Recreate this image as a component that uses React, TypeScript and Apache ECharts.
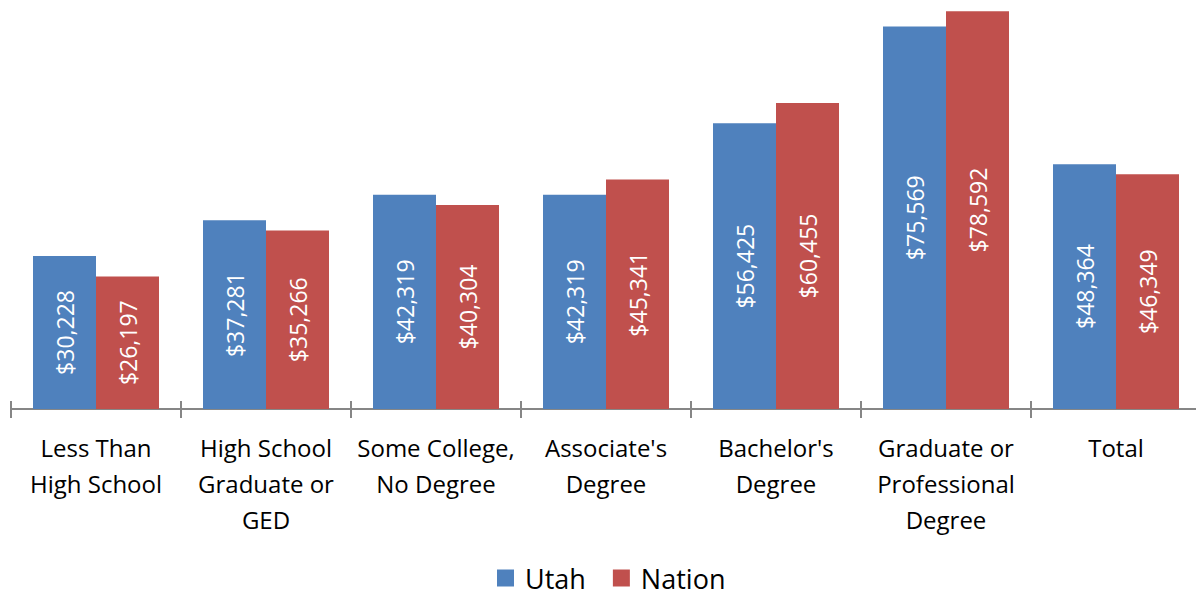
import React, { useEffect, useRef } from "react";
import * as echarts from "echarts";

const categories = [
  "Less Than\nHigh School",
  "High School\nGraduate or\nGED",
  "Some College,\nNo Degree",
  "Associate's\nDegree",
  "Bachelor's\nDegree",
  "Graduate or\nProfessional\nDegree",
  "Total",
];
const utahValues = [30228, 37281, 42319, 42319, 56425, 75569, 48364];
const nationValues = [26197, 35266, 40304, 45341, 60455, 78592, 46349];

const FONT = "'Open Sans', 'Noto Sans', sans-serif";

const fmt = (v: number) => "$" + v.toLocaleString("en-US");

export default function App() {
  const ref = useRef<HTMLDivElement>(null);
  useEffect(() => {
    if (!ref.current) return;
    const chart = echarts.init(ref.current, null, { renderer: "svg" });
    const label = {
      show: true,
      position: "inside",
      rotate: 90,
      color: "#ffffff",
      fontFamily: FONT,
      fontSize: 23,
      formatter: (p: any) => fmt(p.value),
    };
    chart.setOption({
      animation: false,
      textStyle: { fontFamily: FONT },
      grid: { left: 11, width: 1190, top: 4, bottom: 186, containLabel: false },
      legend: {
        top: 564,
        left: 497,
        padding: 0,
        itemWidth: 17,
        itemHeight: 17,
        itemGap: 27,
        icon: "rect",
        textStyle: {
          fontSize: 27,
          lineHeight: 28,
          color: "#000",
          fontFamily: FONT,
          padding: [0, 0, 0, 6],
        },
        data: ["Utah", "Nation"],
      },
      xAxis: [
        {
          type: "category",
          data: categories,
          axisLine: { show: true, lineStyle: { color: "#868686", width: 2 } },
          axisTick: { show: true, length: 9, lineStyle: { color: "#868686", width: 2 } },
          axisLabel: {
            color: "#000",
            fontSize: 24,
            lineHeight: 36,
            margin: 20,
            fontFamily: FONT,
            interval: 0,
          },
        },
        {
          type: "category",
          data: categories,
          position: "bottom",
          axisLine: { show: false },
          axisTick: { show: true, inside: true, length: 8, lineStyle: { color: "#868686", width: 2 } },
          axisLabel: { show: false },
        },
      ],
      yAxis: {
        type: "value",
        min: 0,
        max: 80000,
        show: false,
        splitLine: { show: false },
      },
      series: [
        {
          name: "Utah",
          type: "bar",
          data: utahValues,
          barWidth: 63,
          barGap: "0%",
          itemStyle: { color: "#4F81BD" },
          label,
        },
        {
          name: "Nation",
          type: "bar",
          data: nationValues,
          barWidth: 63,
          barGap: "0%",
          itemStyle: { color: "#C0504D" },
          label,
        },
      ],
    });
    return () => chart.dispose();
  }, []);
  return (
    <div
      style={{ position: "fixed", left: 0, top: 0, width: 1196, height: 595, overflow: "hidden", background: "#fff" }}
    >
      <div ref={ref} style={{ width: 1210, height: 595 }} />
    </div>
  );
}
